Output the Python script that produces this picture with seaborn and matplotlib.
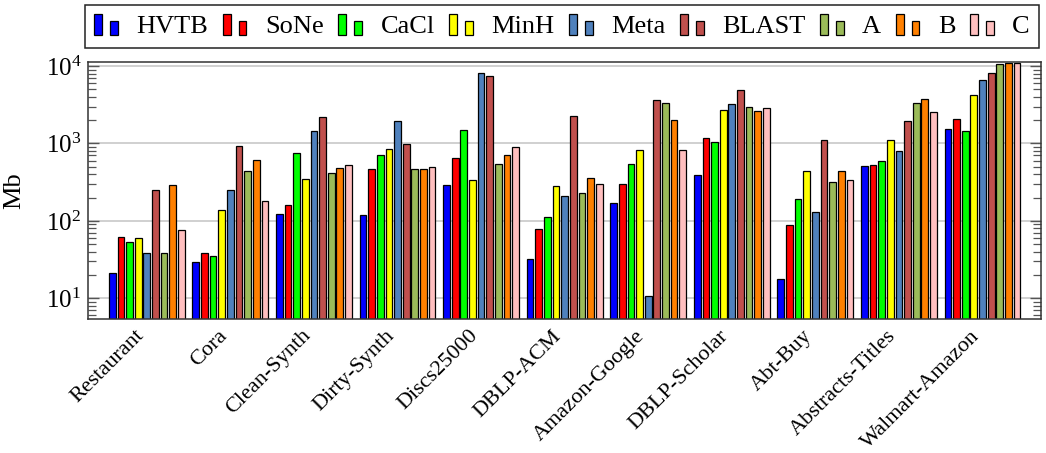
import matplotlib
matplotlib.use("Agg")
import matplotlib.pyplot as plt
from matplotlib.legend_handler import HandlerBase
from matplotlib.patches import Patch, Rectangle
from matplotlib.ticker import LogLocator, LogFormatterSciNotation, NullFormatter
from matplotlib.transforms import ScaledTranslation
import pandas as pd
import seaborn as sns

# データ (Mb)
datasets = ["Restaurant", "Cora", "Clean-Synth", "Dirty-Synth", "Discs25000", "DBLP-ACM",
            "Amazon-Google", "DBLP-Scholar", "Abt-Buy", "Abstracts-Titles", "Walmart-Amazon"]
methods = ["HVTB", "SoNe", "CaCl", "MinH", "Meta", "BLAST", "A", "B", "C"]

hvtb = [21, 29, 123, 120, 291, 32, 170, 395, 18, 516, 1525]
sone = [61, 39, 160, 464, 650, 79, 303, 1167, 88, 527, 2055]
cacl = [53, 35, 754, 704, 1510, 111, 538, 1037, 192, 594, 1465]
minh = [60, 140, 351, 857, 334, 282, 817, 2710, 445, 1110, 4200]
meta = [38, 253, 1465, 1954, 8220, 208, 10.6, 3210, 131, 807, 6560]
blast = [248, 937, 2198, 995, 7510, 2286, 3650, 4870, 1100, 1936, 8220]
a_vals = [38, 441, 420, 464, 548, 231, 3300, 2940, 318, 3305, 10540]
b_vals = [294, 607, 487, 470, 704, 355, 2030, 2655, 445, 3720, 10860]
c_vals = [77, 182, 532, 492, 893, 300, 817, 2905, 334, 2530, 11060]

colors = ["#0000FF", "#FF0000", "#00FF00", "#FFFF00", "#4F81BD",
          "#C0504D", "#9BBB59", "#FF8000", "#FFBFBF"]


# pgfplots 風の凡例アイコン (高さの違う2本の棒)
class TwoBars(HandlerBase):
    def create_artists(self, legend, orig_handle, xdescent, ydescent,
                       width, height, fontsize, trans):
        w = width * 0.33
        r1 = Rectangle((-xdescent, -ydescent), w, height,
                       facecolor=orig_handle.get_facecolor(), edgecolor="black",
                       linewidth=0.9, transform=trans)
        r2 = Rectangle((-xdescent + width - w, -ydescent), w, height * 0.68,
                       facecolor=orig_handle.get_facecolor(), edgecolor="black",
                       linewidth=0.9, transform=trans)
        return [r1, r2]


def main():
    series = [hvtb, sone, cacl, minh, meta, blast, a_vals, b_vals, c_vals]
    rows = []
    for m, vals in zip(methods, series):
        for d, v in zip(datasets, vals):
            rows.append({"dataset": d, "method": m, "value": v})
    df = pd.DataFrame(rows)

    sns.set_theme(style="white")
    plt.rcParams["font.family"] = ["Liberation Serif", "DejaVu Serif"]
    plt.rcParams["mathtext.fontset"] = "custom"
    plt.rcParams["mathtext.rm"] = "Liberation Serif"
    plt.rcParams["mathtext.it"] = "Liberation Serif:italic"
    plt.rcParams["text.color"] = "black"
    plt.rcParams["axes.labelcolor"] = "black"
    plt.rcParams["xtick.labelcolor"] = "black"
    plt.rcParams["ytick.labelcolor"] = "black"

    fig = plt.figure(figsize=(10.46, 4.53), dpi=100)
    ax = fig.add_axes([88.3 / 1046, 1 - 319.3 / 453,
                       (1041 - 88.3) / 1046, (319.3 - 61.7) / 453])

    sns.barplot(data=df, x="dataset", y="value", hue="method",
                order=datasets, hue_order=methods, palette=colors,
                saturation=1, width=0.93, gap=0.22, errorbar=None,
                edgecolor="black", linewidth=0.9, legend=False, ax=ax)

    ax.set_yscale("log")
    ax.set_ylim(5.35, 11400)
    ax.set_xlim(-0.7, 10.7)

    ax.yaxis.set_major_locator(LogLocator(base=10, numticks=10))
    ax.yaxis.set_minor_locator(LogLocator(base=10, subs=range(2, 10), numticks=20))
    ax.yaxis.set_major_formatter(LogFormatterSciNotation())
    ax.yaxis.set_minor_formatter(NullFormatter())
    ax.tick_params(axis="y", which="both", direction="in", left=True, right=True,
                   labelsize=18, pad=5, color="#555555")
    ax.tick_params(axis="y", which="major", length=8, width=1)
    ax.tick_params(axis="y", which="minor", length=6, width=0.9)
    ax.tick_params(axis="x", length=0, labelsize=16, pad=10)
    ax.grid(True, axis="y", which="major", color="#c8c8c8", linewidth=1.2)
    ax.set_axisbelow(True)

    # ラベルを少し左へずらす
    shift = ScaledTranslation(-6 / 100, 0, fig.dpi_scale_trans)
    for lab in ax.get_xticklabels():
        lab.set_rotation(45)
        lab.set_ha("right")
        lab.set_va("center")
        lab.set_rotation_mode("anchor")
        lab.set_transform(lab.get_transform() + shift)

    for s in ax.spines.values():
        s.set_color("#333333")
        s.set_linewidth(1.1)

    ax.set_xlabel("")
    ax.set_ylabel("Mb", fontsize=19)
    ax.yaxis.set_label_coords(-0.066, 0.5)

    handles = [Patch(facecolor=c) for c in colors]
    leg = ax.legend(handles, methods, handler_map={Patch: TwoBars()},
                    loc="lower left", ncol=9, mode="expand",
                    bbox_to_anchor=(85 / 1046, 1 - 47.7 / 453, (1039 - 85) / 1046, 43.4 / 453),
                    bbox_transform=fig.transFigure, borderaxespad=0,
                    fontsize=19, handlelength=0.9, handleheight=0.85,
                    handletextpad=0.7, columnspacing=0.5, borderpad=0.35,
                    frameon=True, fancybox=False, framealpha=1)
    leg.get_frame().set_edgecolor("#222222")
    leg.get_frame().set_linewidth(1.1)

    fig.savefig("out.png", dpi=100)
    plt.close(fig)


if __name__ == "__main__":
    main()
